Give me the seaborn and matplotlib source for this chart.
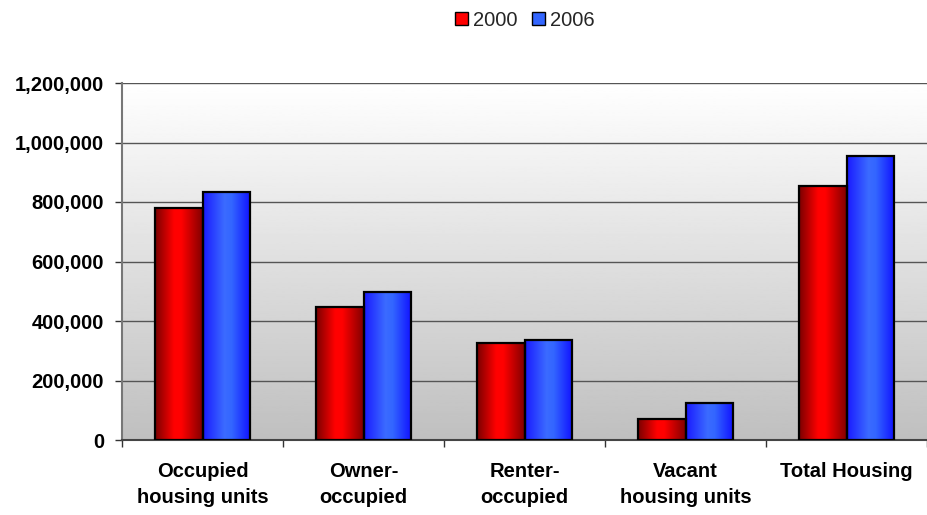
import numpy as np
import pandas as pd
import matplotlib
matplotlib.use("Agg")
import matplotlib.pyplot as plt
import seaborn as sns
from matplotlib.colors import LinearSegmentedColormap
from matplotlib.patches import Patch
from matplotlib.ticker import FuncFormatter, FixedLocator

categories = ["Occupied\nhousing units", "Owner-\noccupied", "Renter-\noccupied",
              "Vacant\nhousing units", "Total Housing"]
values_2000 = [780000, 447000, 326000, 71000, 854000]
values_2006 = [833000, 497000, 336000, 124000, 955000]
series = ["2000", "2006"]
yticks = [0, 200000, 400000, 600000, 800000, 1000000, 1200000]

df = pd.DataFrame({
    "category": categories * 2,
    "value": values_2000 + values_2006,
    "year": [series[0]] * len(categories) + [series[1]] * len(categories),
})

sns.set_theme(style="white")
plt.rcParams["font.family"] = ["Liberation Sans", "DejaVu Sans"]

fig = plt.figure(figsize=(9.28, 5.15), dpi=100)
ax = fig.add_axes([122 / 928, 75 / 515, (927 - 122) / 928, (440 - 83) / 515])

colors = {"2000": "#ff0000", "2006": "#3366ff"}
sns.barplot(data=df, x="category", y="value", hue="year", palette=colors,
            width=0.585, gap=0, edgecolor="black", linewidth=1.6,
            saturation=1, ax=ax, legend=False, zorder=3)

n = len(categories)
ax.set_ylim(0, 1200000)
ax.set_xlim(-0.5, n - 0.5)

# background gradient
bg = np.linspace(0.75, 1.0, 256).reshape(-1, 1)
ax.imshow(bg, extent=[-0.5, n - 0.5, 0, 1200000], aspect="auto",
          cmap="gray", vmin=0, vmax=1, origin="lower", zorder=0)

# bar gradients
red_cmap = LinearSegmentedColormap.from_list("r", [(0, "#7a0000"), (0.4, "#ff0000"), (0.55, "#ff0000"), (1, "#800000")])
blue_cmap = LinearSegmentedColormap.from_list("b", [(0, "#1a1aff"), (0.45, "#3b6bff"), (0.6, "#3366ff"), (1, "#1010ff")])
grad = np.linspace(0, 1, 256).reshape(1, -1)
for i, p in enumerate(ax.patches[:2 * n]):
    cmap = red_cmap if i < n else blue_cmap
    x0, y0 = p.get_x(), p.get_y()
    w, h = p.get_width(), p.get_height()
    im = ax.imshow(grad, extent=[x0, x0 + w, y0, y0 + h], aspect="auto",
                   cmap=cmap, origin="lower", zorder=3.5)
    im.set_clip_path(p)
    p.set_facecolor("none")
    p.set_zorder(4)

ax.set_ylim(0, 1200000)
ax.set_xlim(-0.5, n - 0.5)

# grid
for t in yticks[1:]:
    ax.axhline(t, color="#555555", lw=1.0, zorder=1)

ax.yaxis.set_major_locator(FixedLocator(yticks))
ax.yaxis.set_major_formatter(FuncFormatter(lambda v, _: f"{int(v):,}"))
ax.tick_params(axis="y", left=True, length=5, width=1, color="#333333",
               labelsize=14.5, pad=8, direction="out", labelcolor="black")
for lab in ax.get_yticklabels():
    lab.set_fontweight("bold")

ax.set_xticks(np.arange(n))
ax.set_xticklabels(categories, fontsize=14.5, fontweight="bold", linespacing=1.48,
                   color="black")
ax.xaxis.set_minor_locator(FixedLocator(np.arange(-0.5, n, 1.0)))
ax.tick_params(axis="x", which="major", length=0, pad=16)
ax.tick_params(axis="x", which="minor", bottom=True, length=5, width=1, color="#333333", direction="out")
ax.set_xlabel("")
ax.set_ylabel("")

for s in ["top", "right"]:
    ax.spines[s].set_visible(False)
ax.spines["left"].set_color("#777777")
ax.spines["left"].set_linewidth(1.5)
ax.spines["bottom"].set_color("#444444")
ax.spines["bottom"].set_linewidth(1.5)

handles = [Patch(facecolor=colors[s], edgecolor="black", linewidth=1.0, label=s) for s in series]
fig.legend(handles=handles, loc="center", bbox_to_anchor=(525 / 928, 1 - 20 / 515),
           ncol=2, frameon=False, fontsize=14.5, handlelength=0.65, handleheight=0.65,
           handletextpad=0.25, columnspacing=0.7)

fig.savefig("out.png", dpi=100)
